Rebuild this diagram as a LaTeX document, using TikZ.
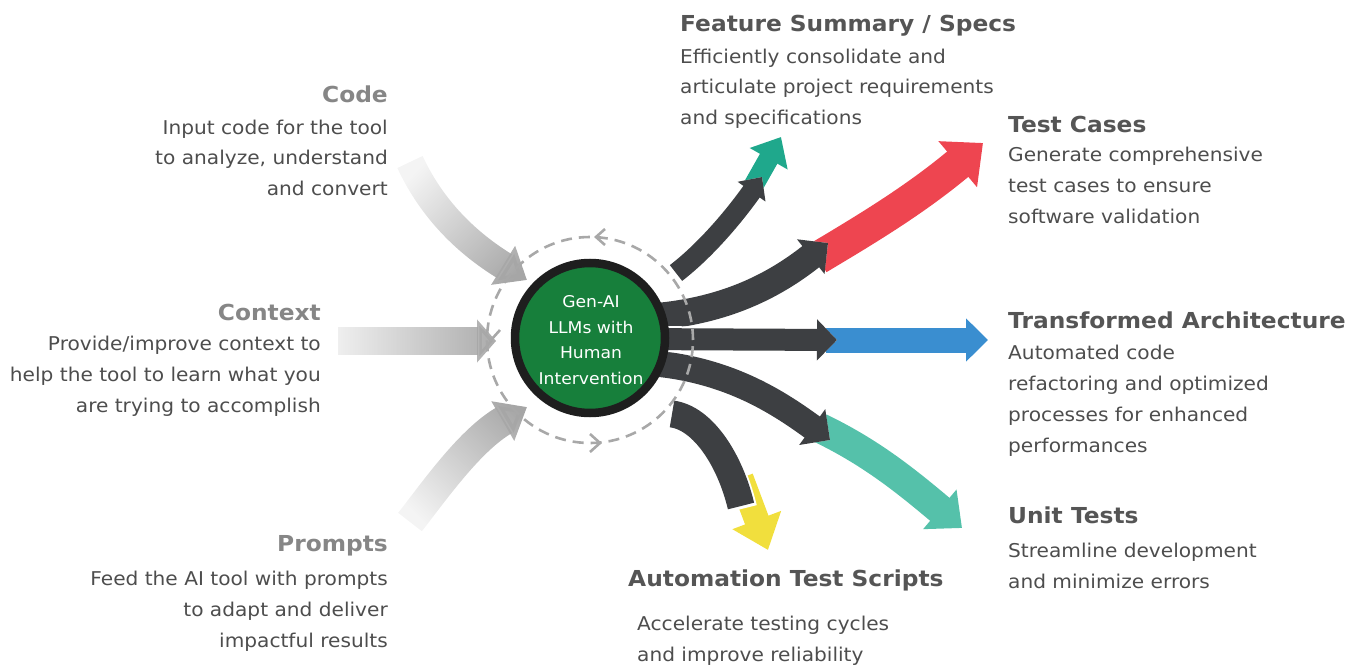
\documentclass[tikz,border=0pt]{standalone}
\usepackage{fontspec}
\setmainfont{DejaVu Sans}[FakeStretch=1.06]
\usetikzlibrary{arrows.meta,fadings}

\definecolor{txt}{HTML}{4D4D4D}
\definecolor{lhead}{HTML}{868686}
\definecolor{rhead}{HTML}{555555}
\definecolor{darkarr}{HTML}{3D3F42}
\definecolor{tealA}{HTML}{1FA88C}
\definecolor{redA}{HTML}{EE4550}
\definecolor{blueA}{HTML}{3A8ED0}
\definecolor{tealB}{HTML}{55C1AA}
\definecolor{yelA}{HTML}{F1DF3D}
\definecolor{ringc}{HTML}{1E1E1E}
\definecolor{greenc}{HTML}{177F3B}
\definecolor{dashc}{HTML}{A8A8A8}
\definecolor{inarr}{HTML}{A6A6A6}

\tikzfading[name=infade, left color=transparent!88, right color=transparent!0]

\begin{document}
\begin{tikzpicture}[x=1pt,y=-1pt,
  bodytxt/.style={font=\fontsize{19}{31}\selectfont, text=txt, inner sep=0pt},
  lhd/.style={font=\fontsize{22}{26}\selectfont\bfseries, text=lhead, inner sep=0pt},
  rhd/.style={font=\fontsize{22}{26}\selectfont\bfseries, text=rhead, inner sep=0pt},
  inarrow/.style={draw=inarr, path fading=infade},
  whiteedge/.style={draw=white},
  darkbody/.style={draw=darkarr},
  chev/.style={draw=dashc, line width=2.6pt}
]
\useasboundingbox (0,0) rectangle (1361,666);

% ---------- coordinates ----------
\coordinate (codeS) at (410,162);   \coordinate (codeE) at (527,280);
\coordinate (ctxS)  at (338,341);   \coordinate (ctxE)  at (496,341);
\coordinate (prmS)  at (410,522);   \coordinate (prmE)  at (527,407);

\coordinate (fsS) at (676,273);  \coordinate (fsE) at (762,177);
\coordinate (fsCS) at (743,204); \coordinate (fsCE) at (781,137);
\coordinate (tcS) at (630,318);  \coordinate (tcE) at (828,243);
\coordinate (tcCS) at (818,258); \coordinate (tcCE) at (983,143);
\coordinate (taS) at (630,339);  \coordinate (taE) at (837,340);
\coordinate (taCS) at (826,340); \coordinate (taCE) at (988,340);
\coordinate (utS) at (630,362);  \coordinate (utE) at (830,440);
\coordinate (utCS) at (820,428); \coordinate (utCE) at (962,528);
\coordinate (atS) at (672,414);  \coordinate (atE) at (741,506);
\coordinate (atCS) at (741,478); \coordinate (atCE) at (768,550);

% ---------- input arrows ----------
\draw[inarrow, line width=28pt, fading angle=-45, -{Triangle[length=28pt,width=44pt]}]
  (codeS) .. controls (430,205) and (462,240) .. (codeE);
\draw[inarrow, line width=27pt, -{Triangle[length=19pt,width=42pt]}]
  (ctxS) -- (ctxE);
\draw[inarrow, line width=30pt, fading angle=45, -{Triangle[length=28pt,width=44pt]}]
  (prmS) .. controls (435,490) and (470,440) .. (prmE);

% ---------- coloured output arrows ----------
\draw[draw=tealA, line width=20pt, -{Triangle[length=25pt,width=42pt]}]
  (fsCS) -- (fsCE);
\draw[draw=redA, line width=33pt, -{Triangle[length=33pt,width=58pt]}]
  (tcCS) .. controls (865,230) and (915,200) .. (tcCE);
\draw[draw=blueA, line width=25pt, -{Triangle[length=22pt,width=42pt]}]
  (taCS) -- (taCE);
\draw[draw=tealB, line width=30pt, -{Triangle[length=29pt,width=50pt]}]
  (utCS) .. controls (870,452) and (905,480) .. (utCE);
\draw[draw=yelA, line width=25pt, -{Triangle[length=32pt,width=50pt]}]
  (atCS) -- (atCE);

% ---------- dark arrows ----------
% feature summary
\draw[whiteedge, line width=24pt, -{Triangle[length=22pt,width=40pt]}]
  (fsS) .. controls (702,253) and (730,222) .. (fsE);
\draw[darkbody, line width=20pt, -{Triangle[length=18pt,width=33pt]}]
  (fsS) .. controls (702,253) and (730,222) .. (fsE);
% automation
\draw[whiteedge, line width=31pt, shorten >=-3pt]
  (atS) .. controls (703,418) and (730,460) .. (atE);
\draw[darkbody, line width=27pt]
  (atS) .. controls (703,418) and (730,460) .. (atE);
% unit tests
\draw[whiteedge, line width=30pt, -{Triangle[length=26pt,width=50pt]}]
  (utS) .. controls (720,364) and (775,400) .. (utE);
\draw[darkbody, line width=26pt, -{Triangle[length=22pt,width=43pt]}]
  (utS) .. controls (720,364) and (775,400) .. (utE);
% test cases
\draw[whiteedge, line width=31pt, -{Triangle[length=26pt,width=50pt]}]
  (tcS) .. controls (720,316) and (775,285) .. (tcE);
\draw[darkbody, line width=27pt, -{Triangle[length=22pt,width=43pt]}]
  (tcS) .. controls (720,316) and (775,285) .. (tcE);
% transformed architecture
\draw[whiteedge, line width=26pt, -{Triangle[length=24pt,width=47pt]}]
  (taS) -- (taE);
\draw[darkbody, line width=22pt, -{Triangle[length=20pt,width=40pt]}]
  (taS) -- (taE);

% ---------- dashed loop ----------
\node[circle, draw=dashc, line width=2.6pt, dash pattern=on 11pt off 7pt,
      minimum size=206pt, inner sep=0pt] (loop) at (590,340) {};
\draw[chev] (605,229) -- (596,237) -- (605,245);
\draw[chev] (482,330) -- (491,340) -- (500,330);
\draw[chev] (590,434) -- (600,443) -- (590,452);

% ---------- core ----------
\node[circle, fill=greenc, draw=ringc, line width=8.5pt, minimum size=150pt, inner sep=0pt] (core) at (590,338) {};
\node[text=white, align=center, font=\fontsize{16.2}{25.5}\selectfont, inner sep=0pt] (coretxt) at (591,340)
  {Gen-AI\\LLMs with\\Human\\Intervention};

% ---------- texts ----------
\node[lhd, anchor=base east] (codeh) at (388,103) {Code};
\node[bodytxt, anchor=base east, align=right] (codeb) at (388,196)
  {Input code for the tool\\to analyze, understand\\and convert};
\node[lhd, anchor=base east] (ctxh) at (321,320) {Context};
\node[bodytxt, anchor=base east, align=right] (ctxb) at (321,412)
  {Provide/improve context to\\help the tool to learn what you\\are trying to accomplish};
\node[lhd, anchor=base east] (prmh) at (388,551) {Prompts};
\node[bodytxt, anchor=base east, align=right] (prmb) at (388,647)
  {Feed the AI tool with prompts\\to adapt and deliver\\impactful results};

\node[rhd, anchor=base west] (fsh) at (680,32) {Feature Summary / Specs};
\node[bodytxt, anchor=base west, align=left] (fsb) at (680,125)
  {Efficiently consolidate and\\articulate project requirements\\and specifications};
\node[rhd, anchor=base west] (tch) at (1008,133) {Test Cases};
\node[bodytxt, anchor=base west, align=left] (tcb) at (1008,223)
  {Generate comprehensive\\test cases to ensure\\software validation};
\node[rhd, anchor=base west] (tah) at (1008,328) {Transformed Architecture};
\node[bodytxt, anchor=base west, align=left] (tab) at (1008,452)
  {Automated code\\refactoring and optimized\\processes for enhanced\\performances};
\node[rhd, anchor=base west] (uth) at (1008,523) {Unit Tests};
\node[bodytxt, anchor=base west, align=left] (utb) at (1008,588)
  {Streamline development\\and minimize errors};
\node[rhd, anchor=base west] (ath) at (628,586) {Automation Test Scripts};
\node[bodytxt, anchor=base west, align=left] (atb) at (637,661)
  {Accelerate testing cycles\\and improve reliability};
\end{tikzpicture}
\end{document}
